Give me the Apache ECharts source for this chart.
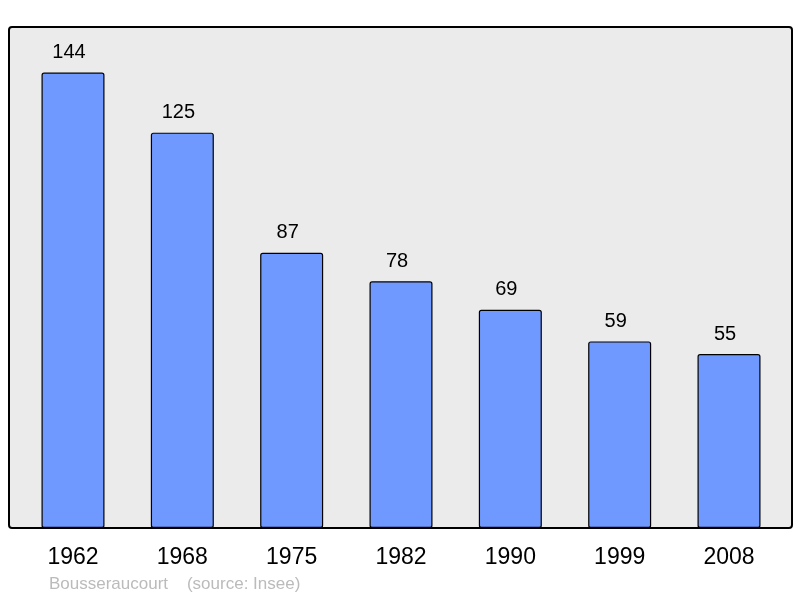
<!DOCTYPE html>
<html><head><meta charset="utf-8">
<script src="https://cdn.jsdelivr.net/npm/echarts@6/dist/echarts.min.js"></script>
<style>html,body{margin:0;padding:0;background:#fff}#c{width:800px;height:598px}</style>
</head><body><div id="c"></div>
<script>
const years = ['1962','1968','1975','1982','1990','1999','2008'];
const population = [144,125,87,78,69,59,55];
const sourceText = 'Bousseraucourt    (source: Insee)';

const chart = echarts.init(document.getElementById('c'));
chart.setOption({
  animation: false,
  backgroundColor: '#ffffff',
  textStyle: {fontFamily: 'Liberation Sans, Arial, sans-serif'},
  grid: {left: 18.33, right: 16.33, top: 27, bottom: 70},
  graphic: [
    {type: 'rect', z: -10, shape: {x: 9, y: 27, width: 783, height: 501, r: 3},
     style: {fill: '#ebebeb', stroke: '#000', lineWidth: 2}},
    {type: 'text', left: 49, top: 576, style: {text: sourceText, fill: '#bbbbbb', font: '17px "Liberation Sans", Arial, sans-serif'}}
  ],
  xAxis: {
    type: 'category', data: years,
    axisLine: {show: false}, axisTick: {show: false},
    axisLabel: {color: '#000', fontSize: 23, margin: 18}
  },
  yAxis: {type: 'value', min: 0, max: 158.4, show: false, splitLine: {show: false}},
  series: [{
    type: 'bar', data: population, barWidth: 63,
    itemStyle: {color: '#7099ff', borderColor: '#000', borderWidth: 1.2, borderRadius: 2},
    label: {show: true, position: 'top', distance: 10, offset: [-4, 0], color: '#000', fontSize: 20}
  }]
});
</script></body></html>
